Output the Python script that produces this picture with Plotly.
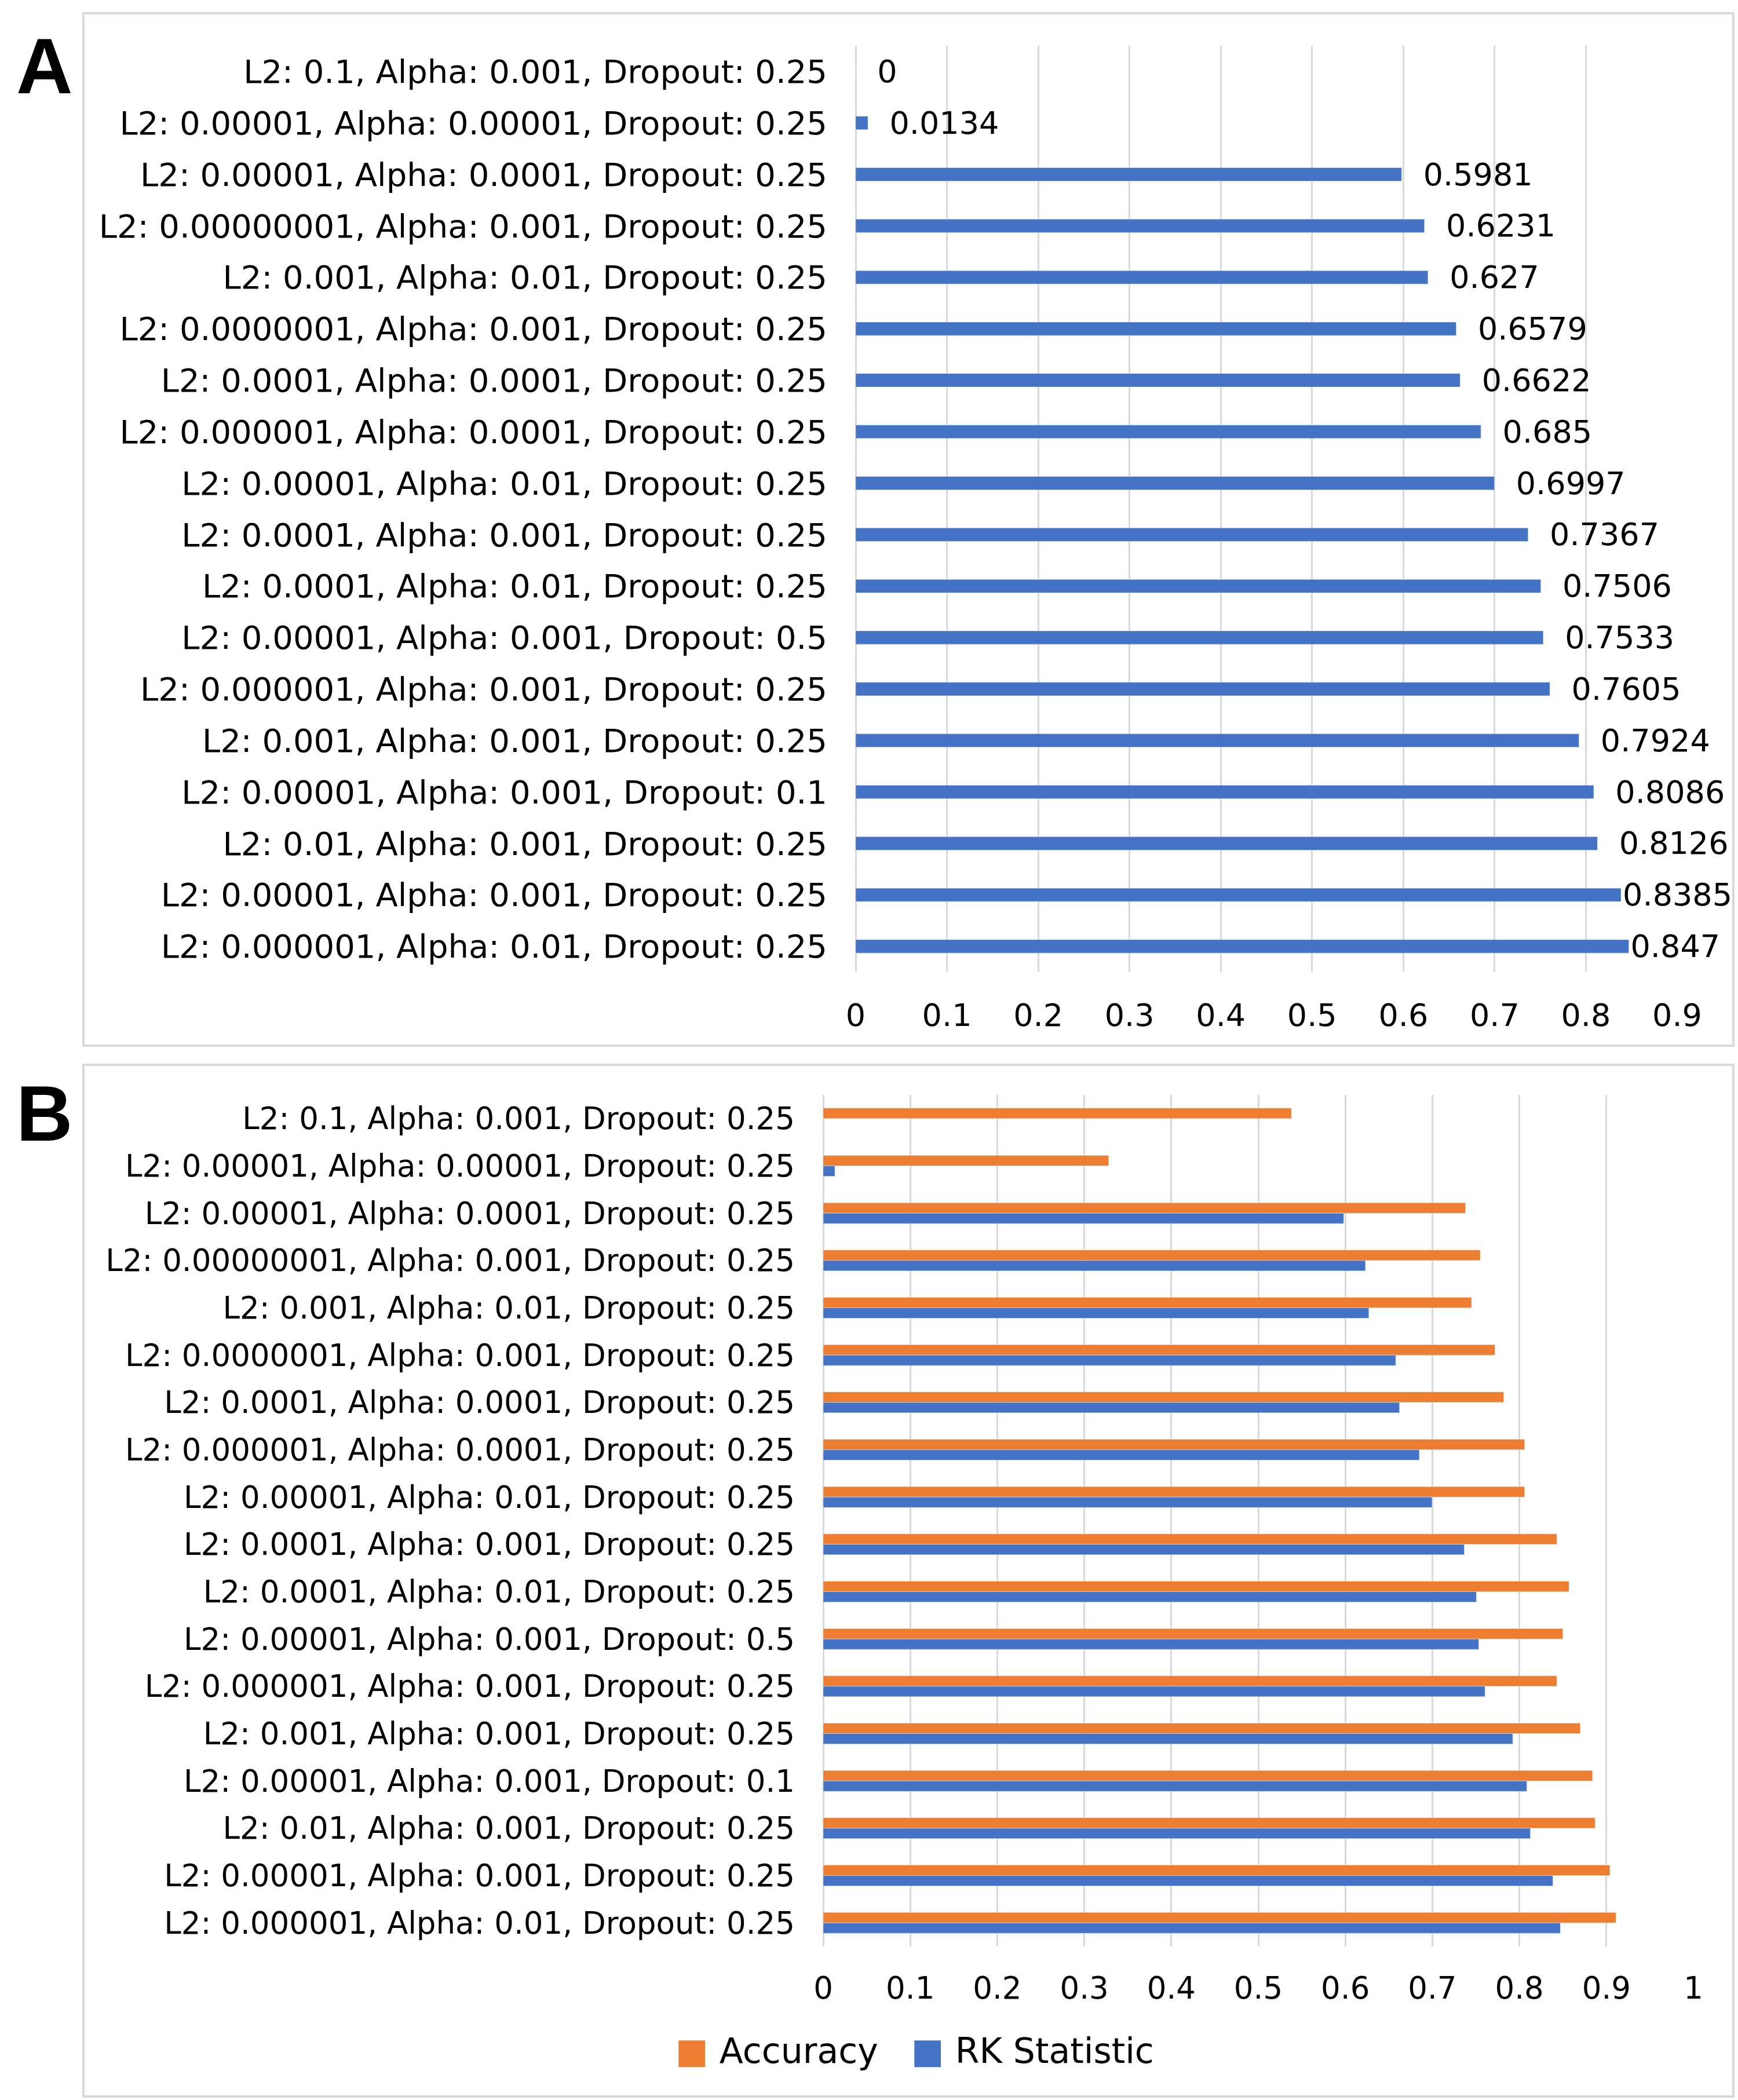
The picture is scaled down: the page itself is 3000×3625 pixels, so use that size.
import plotly.graph_objects as go

# hyper-parameter settings, top to bottom as in the figure
settings = [
    "L2: 0.1, Alpha: 0.001, Dropout: 0.25",
    "L2: 0.00001, Alpha: 0.00001, Dropout: 0.25",
    "L2: 0.00001, Alpha: 0.0001, Dropout: 0.25",
    "L2: 0.00000001, Alpha: 0.001, Dropout: 0.25",
    "L2: 0.001, Alpha: 0.01, Dropout: 0.25",
    "L2: 0.0000001, Alpha: 0.001, Dropout: 0.25",
    "L2: 0.0001, Alpha: 0.0001, Dropout: 0.25",
    "L2: 0.000001, Alpha: 0.0001, Dropout: 0.25",
    "L2: 0.00001, Alpha: 0.01, Dropout: 0.25",
    "L2: 0.0001, Alpha: 0.001, Dropout: 0.25",
    "L2: 0.0001, Alpha: 0.01, Dropout: 0.25",
    "L2: 0.00001, Alpha: 0.001, Dropout: 0.5",
    "L2: 0.000001, Alpha: 0.001, Dropout: 0.25",
    "L2: 0.001, Alpha: 0.001, Dropout: 0.25",
    "L2: 0.00001, Alpha: 0.001, Dropout: 0.1",
    "L2: 0.01, Alpha: 0.001, Dropout: 0.25",
    "L2: 0.00001, Alpha: 0.001, Dropout: 0.25",
    "L2: 0.000001, Alpha: 0.01, Dropout: 0.25",
]

# RK statistic (panel A labels, panel B blue bars)
rk_statistic = [0, 0.0134, 0.5981, 0.6231, 0.627, 0.6579, 0.6622, 0.685, 0.6997,
                0.7367, 0.7506, 0.7533, 0.7605, 0.7924, 0.8086, 0.8126, 0.8385, 0.847]

# accuracy (panel B orange bars)
accuracy = [0.538, 0.328, 0.738, 0.755, 0.745, 0.772, 0.782, 0.806, 0.806,
            0.843, 0.857, 0.850, 0.843, 0.870, 0.884, 0.887, 0.904, 0.911]

x_ticks_a = [0, 0.1, 0.2, 0.3, 0.4, 0.5, 0.6, 0.7, 0.8, 0.9]
x_ticks_b = [0, 0.1, 0.2, 0.3, 0.4, 0.5, 0.6, 0.7, 0.8, 0.9, 1]

BLUE = "#4472C4"
ORANGE = "#ED7D31"
GRID = "#d9d9d9"
W, H = 3000, 3625
FONT = "DejaVu Sans"
LABEL_SIZE = 54

# panel A plot area in pixels
A_X0, A_X1 = 1477, 2895


def data_label(v):
    # Excel-like label: a small gap after the bar, dropped when the label
    # would run past the chart frame
    txt = f"{v:g}"
    width = ((len(txt) - 1) * 0.636 + 0.318) * LABEL_SIZE
    end = A_X0 + v / 0.9 * (A_X1 - A_X0) + width + 40
    return txt if end > 2995 else "\u00a0\u00a0" + txt


fig = go.Figure()

# panel A: RK statistic with data labels
fig.add_trace(go.Bar(
    x=rk_statistic, y=settings, orientation="h",
    marker_color=BLUE, width=0.26, offset=-0.13,
    text=[data_label(v) for v in rk_statistic], textposition="outside",
    textfont=dict(family=FONT, size=LABEL_SIZE, color="black"),
    constraintext="none", cliponaxis=False,
    xaxis="x", yaxis="y", showlegend=False,
))

# panel B: accuracy vs RK statistic
fig.add_trace(go.Bar(
    x=accuracy, y=settings, orientation="h", name="Accuracy",
    marker_color=ORANGE, width=0.22, offset=-0.22,
    xaxis="x2", yaxis="y2", showlegend=False,
))
fig.add_trace(go.Bar(
    x=rk_statistic, y=settings, orientation="h", name="RK Statistic",
    marker_color=BLUE, width=0.22, offset=0,
    xaxis="x2", yaxis="y2", showlegend=False,
))

xcommon = dict(showgrid=True, gridcolor=GRID, gridwidth=3, zeroline=True,
               zerolinecolor=GRID, zerolinewidth=3, showline=False, ticks="",
               automargin=False)
ycommon = dict(type="category", showgrid=False, zeroline=False, showline=False,
               ticks="", range=[17.5, -0.5], ticklabelstandoff=48, automargin=False)

fig.update_layout(
    width=W, height=H,
    margin=dict(l=0, r=0, t=0, b=0, autoexpand=False),
    paper_bgcolor="white", plot_bgcolor="white",
    barmode="overlay",
    font=dict(family=FONT, color="black"),
    xaxis=dict(domain=[A_X0 / W, A_X1 / W], range=[0, 0.9], tickvals=x_ticks_a,
               tickfont=dict(size=LABEL_SIZE), ticklabelstandoff=38, anchor="y",
               **xcommon),
    yaxis=dict(domain=[1 - 1678 / H, 1 - 79 / H], tickfont=dict(size=56),
               anchor="x", **ycommon),
    xaxis2=dict(domain=[1421 / W, 2923 / W], range=[0, 1], tickvals=x_ticks_b,
                tickfont=dict(size=53), ticklabelstandoff=36, anchor="y2", **xcommon),
    yaxis2=dict(domain=[1 - 3360 / H, 1 - 1890 / H], tickfont=dict(size=53),
                anchor="x2", **ycommon),
)

# panel frames
for top, bottom in [(23, 1805), (1838, 3619)]:
    fig.add_shape(type="rect", xref="paper", yref="paper",
                  x0=144 / W, x1=2992 / W, y0=1 - bottom / H, y1=1 - top / H,
                  line=dict(color=GRID, width=4), fillcolor="rgba(0,0,0,0)")

# panel letters
for letter, yc in [("A", 114), ("B", 1922)]:
    fig.add_annotation(text=f"<b>{letter}</b>", xref="paper", yref="paper",
                       x=77 / W, y=1 - yc / H, xanchor="center", yanchor="middle",
                       showarrow=False,
                       font=dict(family="Liberation Sans", size=135, color="black"))

# legend for panel B
legend_text = (f"<span style='color:{ORANGE}'>■</span> Accuracy   "
               f"<span style='color:{BLUE}'>■</span> RK Statistic")
fig.add_annotation(text=legend_text, xref="paper", yref="paper",
                   x=1579 / W, y=1 - 3540 / H, xanchor="center", yanchor="middle",
                   showarrow=False, font=dict(family=FONT, size=60, color="black"))

# drop the browser's default page margin so the figure sits at (0, 0)
fig.write_html("out.html", config={"displayModeBar": False},
               post_script="document.body.style.margin = '0';")
